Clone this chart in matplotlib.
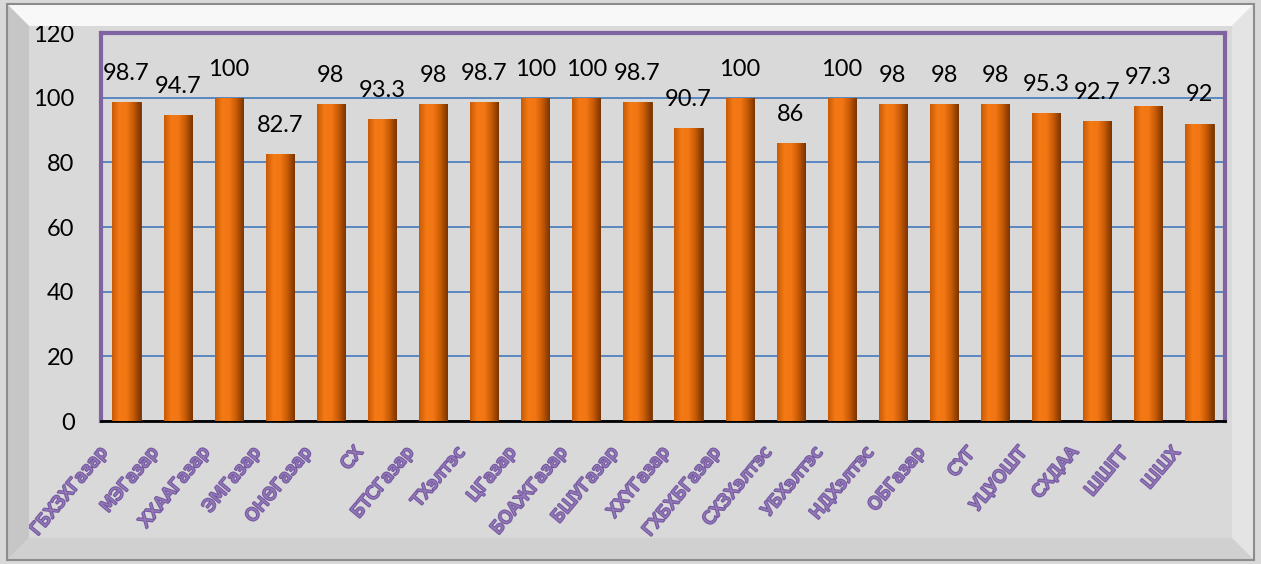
import numpy as np
import matplotlib.pyplot as plt
import matplotlib.patheffects as pe
from matplotlib.patches import Polygon, Rectangle
from matplotlib.colors import LinearSegmentedColormap
from matplotlib.transforms import ScaledTranslation

categories = ['ГБХЗХГазар', 'МЭГазар', 'ХХААГазар', 'ЭМГазар', 'ОНӨГазар', 'СХ',
              'БТСГазар', 'ТХэлтэс', 'ЦГазар', 'БОАЖГазар', 'БШУГазар', 'ХХҮГазар',
              'ГХБХБГазар', 'СХЗХэлтэс', 'УБХэлтэс', 'НДХэлтэс', 'ОБГазар', 'СҮГ',
              'УЦУОШТ', 'СХДАА', 'ШШГГ', 'ШШХ']
values = [98.7, 94.7, 100, 82.7, 98, 93.3, 98, 98.7, 100, 100, 98.7, 90.7,
          100, 86, 100, 98, 98, 98, 95.3, 92.7, 97.3, 92]
value_labels = ['98.7', '94.7', '100', '82.7', '98', '93.3', '98', '98.7', '100', '100',
                '98.7', '90.7', '100', '86', '100', '98', '98', '98', '95.3', '92.7',
                '97.3', '92']
yticks = [0, 20, 40, 60, 80, 100, 120]

bg = '#d9d9d9'
purple = '#8064a2'
plt.rcParams['font.family'] = ['Lato', 'DejaVu Sans']

fig = plt.figure(figsize=(12.61, 5.64), dpi=100)
fig.patch.set_facecolor(bg)

# bevelled outer frame
W, H = 1261, 564
def px(x, y):
    return (x / W, 1 - y / H)

o0, o1 = 7, 1254
t0, b0 = 4, 560
d = 22
fig.patches.append(Polygon([px(o0, t0), px(o1, t0), px(o1 - d, t0 + d), px(o0 + d, t0 + d)],
                           closed=True, transform=fig.transFigure, facecolor='#f8f8f8',
                           edgecolor='none', zorder=0))
fig.patches.append(Polygon([px(o0, t0), px(o0 + d, t0 + d), px(o0 + d, b0 - d), px(o0, b0)],
                           closed=True, transform=fig.transFigure, facecolor='#c6c6c6',
                           edgecolor='none', zorder=0))
fig.patches.append(Polygon([px(o1, t0), px(o1, b0), px(o1 - d, b0 - d), px(o1 - d, t0 + d)],
                           closed=True, transform=fig.transFigure, facecolor='#e4e4e4',
                           edgecolor='none', zorder=0))
fig.patches.append(Polygon([px(o0, b0), px(o0 + d, b0 - d), px(o1 - d, b0 - d), px(o1, b0)],
                           closed=True, transform=fig.transFigure, facecolor='#d0d0d0',
                           edgecolor='none', zorder=0))
fig.patches.append(Rectangle(px(o0, b0), (o1 - o0) / W, (b0 - t0) / H,
                             transform=fig.transFigure, facecolor='none',
                             edgecolor='#8c8c8c', linewidth=1.5, zorder=1))

ax = fig.add_axes([101 / W, 1 - 421 / H, (1225 - 101) / W, (421 - 33) / H])
ax.set_facecolor(bg)

x = np.arange(len(categories))
bw = 0.55
bars = ax.bar(x, values, width=bw, color='#ee7010', edgecolor='#6b3300',
              linewidth=0.6, zorder=3)

# shading across each bar
cmap = LinearSegmentedColormap.from_list('bevel', ['#c85a06', '#f47a14', '#f27614',
                                                    '#c65a05', '#7a3500'])
grad = np.linspace(0, 1, 64).reshape(1, -1)
for b in bars:
    im = ax.imshow(grad, cmap=cmap, aspect='auto', zorder=3,
                   extent=[b.get_x(), b.get_x() + b.get_width(), 0, b.get_height()])
    im.set_clip_path(b)

for xi, v, lab in zip(x, values, value_labels):
    ax.annotate(lab, (xi, v), xytext=(0, 13), textcoords='offset points',
                ha='center', va='bottom', fontsize=17, color='black', zorder=5)

ax.set_xlim(-0.5, len(categories) - 0.5)
ax.set_ylim(0, 120)
ax.set_yticks(yticks)
ax.set_yticklabels([str(t) for t in yticks], fontsize=17)
ax.yaxis.grid(True, color='#4f81bd', linewidth=1.3, zorder=1)
ax.set_axisbelow(True)
ax.tick_params(axis='y', length=0, pad=19)
ax.tick_params(axis='x', length=0, pad=16)

ax.set_xticks(x)
ax.set_xticklabels(categories, rotation=50, ha='right', rotation_mode='anchor',
                   fontsize=12.5, color='#9479b8', family='DejaVu Sans')
shift = ScaledTranslation(-21 / 72, 0, fig.dpi_scale_trans)
for lbl in ax.get_xticklabels():
    lbl.set_transform(lbl.get_transform() + shift)
    lbl.set_path_effects([pe.withStroke(linewidth=1.6, foreground='#7559a0')])

for s in ax.spines.values():
    s.set_color(purple)
    s.set_linewidth(3)
ax.spines['bottom'].set_color('black')
ax.spines['bottom'].set_linewidth(2)

fig.savefig('out.png', dpi=100, facecolor=fig.get_facecolor())
